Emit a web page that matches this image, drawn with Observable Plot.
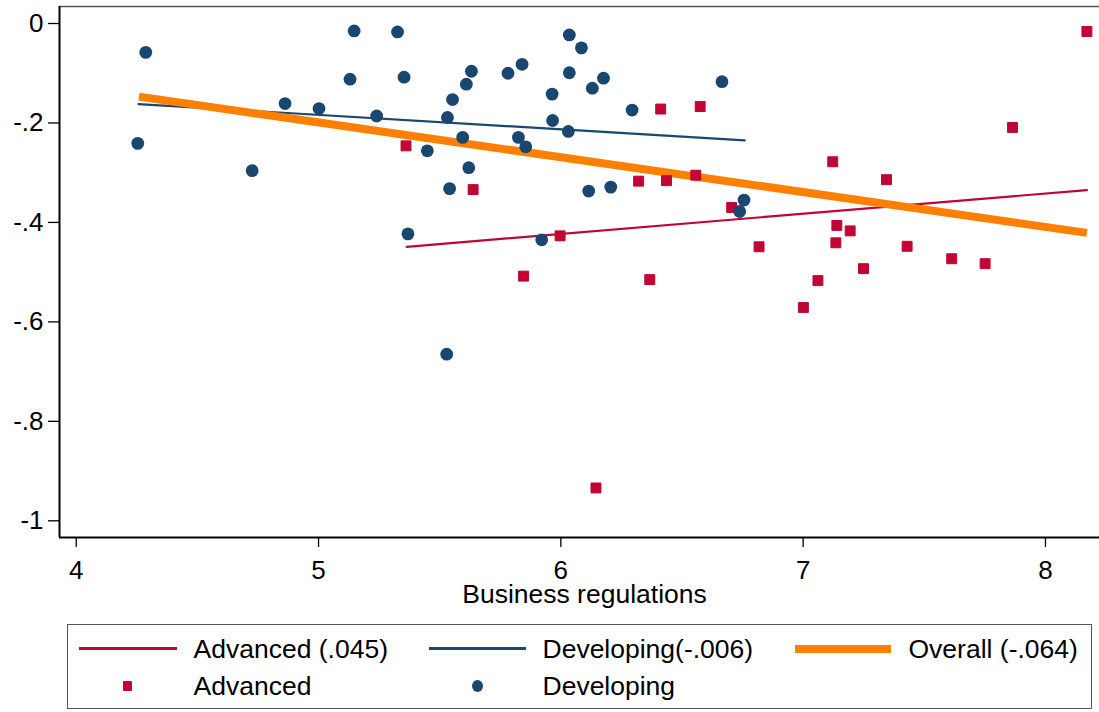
<!DOCTYPE html>
<html>
<head>
<meta charset="utf-8">
<script src="https://cdn.jsdelivr.net/npm/d3@7"></script>
<script src="https://cdn.jsdelivr.net/npm/@observablehq/plot@0.6"></script>
<style>
  html, body { margin: 0; padding: 0; background: #fff; }
  #wrap { position: relative; width: 1099px; height: 712px; font-family: "Liberation Sans", Arial, sans-serif; color: #000; }
  #chart { position: absolute; left: 0; top: 0; }
  #legend { position: absolute; left: 67px; top: 624px; width: 1023px; height: 83px; border: 1.5px solid #555; }
  .lg { position: absolute; font-size: 26.5px; line-height: 26px; white-space: nowrap; }
  .sw { position: absolute; }
</style>
</head>
<body>
<div id="wrap">
  <div id="chart"></div>
  <div id="legend"></div>
</div>
<script>
// ---- Data ----
const advX = [5.361, 5.638, 6.412, 6.575, 6.321, 6.436, 6.557, 5.997, 6.705, 6.818, 5.846, 6.367, 8.171, 7.864, 7.122, 7.344, 7.139, 7.194, 7.135, 7.429, 7.613, 7.751, 7.249, 7.061, 7.001, 6.145];
const advY = [-0.246, -0.334, -0.172, -0.167, -0.317, -0.316, -0.305, -0.427, -0.370, -0.449, -0.508, -0.515, -0.016, -0.209, -0.278, -0.314, -0.406, -0.417, -0.441, -0.448, -0.473, -0.483, -0.493, -0.517, -0.571, -0.934];
const devX = [4.287, 4.254, 4.726, 4.862, 5.002, 5.147, 5.326, 5.130, 5.240, 5.353, 5.532, 5.553, 5.610, 5.631, 5.595, 5.449, 5.620, 5.541, 5.369, 5.782, 5.840, 5.964, 5.966, 6.035, 6.085, 6.035, 6.130, 6.176, 6.031, 5.825, 5.855, 6.294, 6.115, 6.206, 5.921, 6.665, 6.756, 6.738, 5.529];
const devY = [-0.058, -0.241, -0.296, -0.161, -0.171, -0.015, -0.017, -0.112, -0.186, -0.108, -0.189, -0.153, -0.122, -0.096, -0.229, -0.256, -0.290, -0.332, -0.423, -0.100, -0.082, -0.142, -0.195, -0.023, -0.049, -0.099, -0.130, -0.110, -0.217, -0.229, -0.248, -0.174, -0.337, -0.329, -0.435, -0.117, -0.355, -0.378, -0.665];
// fitted-line endpoints
const advFitX = [5.364, 8.171];
const advFitY = [-0.449, -0.335];
const devFitX = [4.257, 6.759];
const devFitY = [-0.162, -0.235];
const allFitX = [4.259, 8.171];
const allFitY = [-0.147, -0.421];
const xTicks = [4, 5, 6, 7, 8];
const yTicks = [0, -0.2, -0.4, -0.6, -0.8, -1];
const yTickLabels = ["0", "-.2", "-.4", "-.6", "-.8", "-1"];
const legendLabels = ["Advanced (.045)", "Developing(-.006)", "Overall (-.064)", "Advanced", "Developing"];
const xTitle = "Business regulations";

const RED = "#c10534", NAVY = "#1a476f", ORANGE = "#ff8000";
const xDom = [3.931, 8.223], yDom = [-1.0336, 0.0342];

const adv = advX.map((x, i) => ({x, y: advY[i]}));
const dev = devX.map((x, i) => ({x, y: devY[i]}));
const lineOf = (xs, ys) => xs.map((x, i) => ({x, y: ys[i]}));

const chart = Plot.plot({
  width: 1099,
  height: 620,
  marginLeft: 59,
  marginRight: 0,
  marginTop: 6,
  marginBottom: 83,
  style: {fontFamily: "'Liberation Sans', Arial, sans-serif", fontSize: "26px", color: "#000", background: "#fff", overflow: "visible"},
  x: {domain: xDom},
  y: {domain: yDom},
  marks: [
    Plot.ruleY([yDom[1]], {stroke: "#555", strokeWidth: 1.5}),
    Plot.axisY({ticks: yTicks, tickFormat: (d) => yTickLabels[yTicks.indexOf(d)], tickSize: 11, tickPadding: 5, fontSize: 26, label: null, strokeWidth: 1.3}),
    Plot.axisX({ticks: xTicks, tickFormat: d => String(d), tickSize: 10, tickPadding: 13, fontSize: 26, label: null, strokeWidth: 1.3}),
    Plot.text([xTitle], {frameAnchor: "bottom", lineAnchor: "top", dy: 47, dx: 5, fontSize: 26.5, fill: "#000"}),
    Plot.line(lineOf(advFitX, advFitY), {x: "x", y: "y", stroke: RED, strokeWidth: 2.2}),
    Plot.line(lineOf(devFitX, devFitY), {x: "x", y: "y", stroke: NAVY, strokeWidth: 2.2}),
    Plot.line(lineOf(allFitX, allFitY), {x: "x", y: "y", stroke: ORANGE, strokeWidth: 8, strokeLinecap: "butt"}),
    Plot.dot(adv, {x: "x", y: "y", symbol: "square", r: 5.6, fill: RED, stroke: RED, strokeWidth: 1, strokeLinejoin: "round"}),
    Plot.dot(dev, {x: "x", y: "y", symbol: "circle", r: 6.4, fill: NAVY, stroke: "none"}),
    Plot.ruleX([xDom[0]], {stroke: "#000", strokeWidth: 2}),
    Plot.ruleY([yDom[0]], {stroke: "#000", strokeWidth: 2})
  ]
});
document.getElementById("chart").appendChild(chart);

// ---- Legend (HTML below the SVG) ----
const lg = document.getElementById("legend");
const L = 67 + 1.5, T = 624 + 1.5; // inner origin
function add(html) { lg.insertAdjacentHTML("beforeend", html); }
function lineSwatch(x1, x2, y, color, w) {
  add(`<div class="sw" style="left:${x1 - L}px;top:${y - T - w / 2}px;width:${x2 - x1}px;height:${w}px;background:${color}"></div>`);
}
function label(x, y, text) {
  add(`<div class="lg" style="left:${x - L}px;top:${y - T - 13}px">${text}</div>`);
}
lineSwatch(79, 177, 649, RED, 2.2);
label(194, 649, legendLabels[0]);
lineSwatch(429, 526, 649, NAVY, 2.2);
label(543, 649, legendLabels[1]);
lineSwatch(795, 891, 649, ORANGE, 8);
label(909, 649, legendLabels[2]);
add(`<div class="sw" style="left:${128 - 4.5 - L}px;top:${686 - 5 - T}px;width:9px;height:10px;background:${RED};border-radius:1px"></div>`);
label(194, 686, legendLabels[3]);
add(`<div class="sw" style="left:${478 - 5.5 - L}px;top:${686 - 6 - T}px;width:11px;height:12px;background:${NAVY};border-radius:50%"></div>`);
label(543, 686, legendLabels[4]);
</script>
</body>
</html>
